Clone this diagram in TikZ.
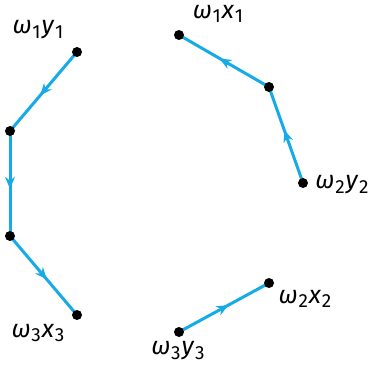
\documentclass[tikz,border=0pt]{standalone}
\usepackage{fontspec}
\setmainfont{Fira Sans}
\usetikzlibrary{decorations.markings,arrows.meta}
\definecolor{linec}{RGB}{22,170,230}
\newcommand{\wlab}[2]{\textit{ω}\kern0.3pt\raisebox{-0.35ex}{\fontsize{9.5}{11}\selectfont #2}\kern0.5pt\textit{#1}\kern0.3pt\raisebox{-0.35ex}{\fontsize{9.5}{11}\selectfont #2}}
\tikzset{
  dot/.style={circle,fill=black,inner sep=0pt,minimum size=5pt},
  seg/.style={draw=linec,line width=1.5pt,
    postaction={decorate,decoration={markings,
      mark=at position 0.55 with {\arrow[linec]{Stealth[length=6pt,width=5pt,inset=2pt]}}}}},
  lab/.style={inner sep=0pt,font=\fontsize{12.5}{14}\selectfont}
}
\begin{document}
\begin{tikzpicture}[x=0.5pt,y=-0.5pt]
\useasboundingbox (0,0) rectangle (374,364);
\coordinate (p1) at (77,52);
\coordinate (p2) at (10,131);
\coordinate (p3) at (10,236);
\coordinate (p4) at (77,315);
\coordinate (a) at (179,35);
\coordinate (b) at (269,87);
\coordinate (c) at (303,183);
\coordinate (d) at (179,332);
\coordinate (e) at (269,283);
\draw[seg] (p1) -- (p2);
\draw[seg] (p2) -- (p3);
\draw[seg] (p3) -- (p4);
\draw[seg] (c) -- (b);
\draw[seg] (b) -- (a);
\draw[seg] (d) -- (e);
\foreach \n in {p1,p2,p3,p4,a,b,c,d,e} \node[dot] at (\n) {};
\node[lab] (l1) at (38,30) {\wlab{y}{1}};
\node[lab] (l2) at (218,14) {\wlab{x}{1}};
\node[lab] (l3) at (342,185) {\wlab{y}{2}};
\node[lab] (l4) at (305,299) {\wlab{x}{2}};
\node[lab] (l5) at (38,333) {\wlab{x}{3}};
\node[lab] (l6) at (178,351) {\wlab{y}{3}};
\end{tikzpicture}
\end{document}
